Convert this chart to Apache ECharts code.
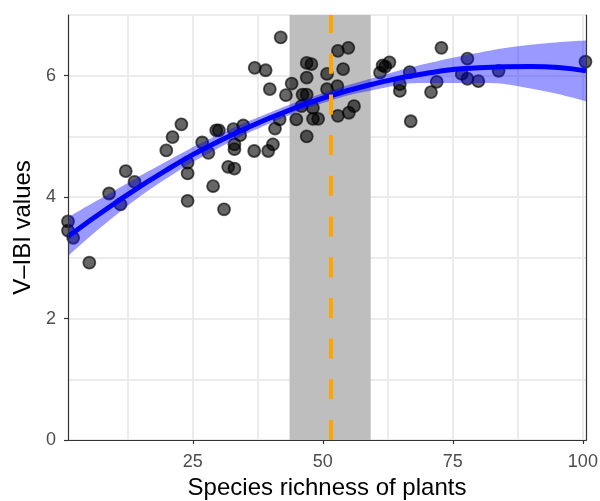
<!DOCTYPE html>
<html style="height: 100%">
<head lang="en">
    <meta charset="UTF-8" />
    <title></title>
    <script src="https://cdn.jsdelivr.net/npm/echarts@6/dist/echarts.min.js"></script>
</head>
<body style="margin:0;background:#fff">
    <div id="main" style="width:600px;height:501px;"></div>
    <script>
        /* 数据 */
        var richness = [1.0, 1.0, 2.0, 5.1, 8.9, 11.1, 12.1, 13.8, 19.9, 21.1, 22.8, 24.0, 24.0, 24.0,
            26.8, 28.0, 28.9, 29.5, 30.0, 31.0, 31.8, 32.8, 33.0, 33.0, 33.0, 34.1, 34.7, 36.8,
            36.9, 39.0, 39.5, 39.8, 40.4, 40.8, 41.7, 41.9, 42.9, 44.0, 44.9, 45.9, 46.1, 46.9,
            46.9, 47.8, 46.9, 46.9, 48.1, 48.1, 49.1, 50.8, 50.8, 52.8, 52.9, 53.9, 54.9, 52.9,
            55.0, 56.0, 61.0, 61.5, 62.0, 62.8, 64.8, 64.8, 66.7, 66.9, 70.8, 71.9, 72.8, 76.7,
            77.8, 77.8, 79.9, 83.8, 100.5];
        var vibi = [3.60, 3.45, 3.33, 2.92, 4.06, 3.88, 4.43, 4.25, 4.77, 4.99, 5.20, 4.57, 4.39, 3.94,
            4.90, 4.73, 4.18, 5.10, 5.10, 3.80, 4.50, 5.12, 4.87, 4.79, 4.47, 5.02, 5.18, 4.76,
            6.13, 6.09, 4.76, 5.78, 4.87, 5.13, 5.28, 6.63, 5.68, 5.87, 5.28, 5.50, 5.69, 5.69,
            6.21, 6.19, 5.97, 5.00, 5.47, 5.29, 5.29, 6.03, 5.78, 5.83, 6.41, 6.11, 6.46, 5.34,
            5.39, 5.50, 6.05, 6.17, 6.15, 6.22, 5.86, 5.75, 6.06, 5.25, 5.73, 5.90, 6.46, 6.03,
            6.28, 5.95, 5.91, 6.08, 6.23];
        // 拟合曲线和置信带
        var fitX  = [1, 10, 20, 30, 40, 50, 60, 70, 80, 90, 100.6];
        var fitY  = [3.35, 3.90, 4.45, 4.92, 5.31, 5.63, 5.87, 6.04, 6.13, 6.15, 6.08];
        var fitLo = [3.03, 3.69, 4.31, 4.81, 5.22, 5.55, 5.77, 5.88, 5.88, 5.79, 5.58];
        var fitHi = [3.67, 4.11, 4.59, 5.03, 5.40, 5.71, 5.97, 6.20, 6.38, 6.51, 6.58];
        var optRange = [43.6, 59.2];
        var optLine = 51.5;
        var xTicks = [25, 50, 75, 100];
        var xMinor = [12.5, 37.5, 62.5, 87.5];
        var yTicks = [0, 2, 4, 6];
        var yMinor = [1, 3, 5, 7];

        var points = richness.map(function(x, i){ return [x, vibi[i]]; });
        var lineData = fitX.map(function(x, i){ return [x, fitY[i]]; });
        // 堆叠带：第一维放y值，这样堆叠的是y
        var loData = fitX.map(function(x, i){ return [fitLo[i], x]; });
        var bandData = fitX.map(function(x, i){ return [fitHi[i] - fitLo[i], x]; });
        var gridLines = xTicks.concat(xMinor).map(function(v){ return {xAxis: v}; })
            .concat(yTicks.concat(yMinor).map(function(v){ return {yAxis: v}; }));

        var font = 'Liberation Sans';
        var app = echarts.init(document.getElementById('main'));
        var option = {
            animation: false,
            backgroundColor: '#fff',
            grid: {left: 68, top: 15, right: 14, bottom: 61, outerBoundsMode: 'none'},
            xAxis: [{
                type: 'value', min: 1, max: 100.6, z: 10,
                name: 'Species richness of plants', nameLocation: 'middle', nameGap: 35,
                nameTextStyle: {color: '#000', fontSize: 24, fontFamily: font},
                axisLine: {lineStyle: {color: '#333', width: 1.2}},
                axisTick: {show: true, length: 4, customValues: xTicks, lineStyle: {color: '#333', width: 1.2}},
                axisLabel: {customValues: xTicks, margin: 13, color: '#4d4d4d', fontSize: 18, fontFamily: font},
                splitLine: {show: false}
            }, {
                type: 'value', min: 1, max: 100.6, position: 'top', z: 10,
                axisLine: {lineStyle: {color: '#333', width: 1.2}},
                axisTick: {show: false}, axisLabel: {show: false}, splitLine: {show: false}
            }],
            yAxis: [{
                type: 'value', min: 0, max: 7, z: 10,
                name: 'V–IBI values', nameLocation: 'middle', nameGap: 29,
                nameTextStyle: {color: '#000', fontSize: 24, fontFamily: font},
                axisLine: {show: true, lineStyle: {color: '#333', width: 1.2}},
                axisTick: {show: true, length: 4, customValues: yTicks, lineStyle: {color: '#333', width: 1.2}},
                axisLabel: {customValues: yTicks, margin: 12, color: '#4d4d4d', fontSize: 18, fontFamily: font},
                splitLine: {show: false}
            }, {
                type: 'value', min: 0, max: 7, position: 'right', z: 10,
                axisLine: {show: true, lineStyle: {color: '#333', width: 1.2}},
                axisTick: {show: false}, axisLabel: {show: false}, splitLine: {show: false}
            }],
            series: [
                {
                    type: 'scatter',
                    z: 3,
                    data: points,
                    symbolSize: 12,
                    itemStyle: {color: 'rgba(0,0,0,0.6)', borderColor: 'rgba(0,0,0,0.65)', borderWidth: 1.8, opacity: 1},
                    markLine: {
                        z: 1, silent: true, symbol: 'none', label: {show: false},
                        lineStyle: {color: '#ebebeb', width: 2, type: 'solid'},
                        data: gridLines
                    },
                    markArea: {
                        z: 2, silent: true,
                        itemStyle: {color: '#bebebe'},
                        data: [[{xAxis: optRange[0]}, {xAxis: optRange[1]}]]
                    }
                },
                {
                    type: 'line', z: 4, stack: 'band', smooth: true, symbol: 'none',
                    encode: {x: 1, y: 0},
                    data: loData, lineStyle: {opacity: 0}
                },
                {
                    type: 'line', z: 4, stack: 'band', smooth: true, symbol: 'none',
                    encode: {x: 1, y: 0},
                    data: bandData, lineStyle: {opacity: 0},
                    areaStyle: {color: 'rgba(0,0,255,0.4)', opacity: 1}
                },
                {
                    type: 'line', z: 5, smooth: true, symbol: 'none',
                    data: lineData,
                    lineStyle: {color: '#0000ff', width: 5},
                    markLine: {
                        z: 6, silent: true, symbol: 'none', label: {show: false},
                        lineStyle: {color: '#FFA500', width: 4, type: [20, 20.7]},
                        data: [{xAxis: optLine}]
                    }
                }
            ]
        };
        app.setOption(option);
    </script>
</body>
</html>
